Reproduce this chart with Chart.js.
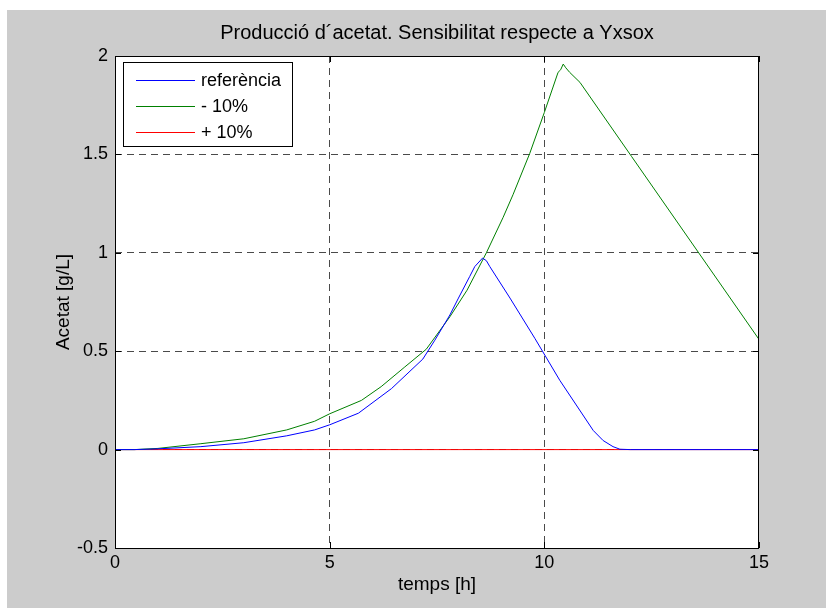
<!DOCTYPE html>
<html>
<head>
<meta charset="utf-8">
<script src="https://cdn.jsdelivr.net/npm/chart.js@4.4.0/dist/chart.umd.min.js"></script>
<style>
  html, body { margin: 0; padding: 0; background: #fff; }
  canvas { display: block; }
</style>
</head>
<body>
<canvas id="chart" width="826" height="608"></canvas>
<script>
// Values (time in h, acetate in g/L)
const refTime = [0, 0.45, 1, 2, 3, 4, 4.65, 5, 5.67, 6.44, 7.17, 7.45, 7.8, 8.0, 8.26, 8.38, 8.56, 8.65, 8.73, 9.2, 9.78, 10.36, 11.14, 11.37, 11.6, 11.76, 12, 15];
const refAcetate = [0, 0, 0.004, 0.015, 0.035, 0.07, 0.10, 0.126, 0.185, 0.31, 0.46, 0.556, 0.684, 0.77, 0.879, 0.93, 0.973, 0.96, 0.93, 0.77, 0.565, 0.352, 0.097, 0.046, 0.015, 0.002, 0, 0];

const minusTime = [0, 0.45, 1, 2, 3, 4, 4.65, 5, 5.74, 6.2, 6.75, 7.25, 7.8, 8.2, 8.65, 9.04, 9.27, 9.66, 10.0, 10.32, 10.38, 10.44, 10.5, 10.59, 10.83, 12.03, 15];
const minusAcetate = [0, 0, 0.006, 0.03, 0.055, 0.10, 0.144, 0.182, 0.25, 0.32, 0.42, 0.51, 0.675, 0.81, 1.0, 1.18, 1.295, 1.505, 1.713, 1.917, 1.93, 1.959, 1.94, 1.917, 1.866, 1.49, 0.56];

const plusTime = [0, 15];
const plusAcetate = [0, 0];

const xTicks = [0, 5, 10, 15];
const yTicks = [-0.5, 0, 0.5, 1, 1.5, 2];

const seriesLabels = ['referència', '- 10%', '+ 10%'];
const seriesColors = ['#0000ff', '#008000', '#ff0000'];

const FONT = '"Liberation Sans", Arial, sans-serif';

function toPoints(xs, ys) {
    return xs.map((x, i) => ({ x: x, y: ys[i] }));
}

// grid only between the outer limits, like matlab
function gridColor(limits) {
    return ctx => (ctx.tick && limits.includes(ctx.tick.value)) ? 'rgba(0,0,0,0)' : '#4a4a4a';
}

// gray figure background with white axes area
const figureBackground = {
    id: 'figureBackground',
    beforeDraw(chart) {
        const ctx = chart.ctx;
        const a = chart.chartArea;
        ctx.save();
        ctx.fillStyle = '#ffffff';
        ctx.fillRect(0, 0, chart.width, chart.height);
        ctx.fillStyle = '#cccccc';
        ctx.fillRect(7, 10, chart.width - 7, chart.height - 10);
        ctx.fillStyle = '#ffffff';
        ctx.fillRect(a.left, a.top, a.right - a.left, a.bottom - a.top);
        ctx.restore();
    }
};

// box, inward ticks and the legend
const axesBox = {
    id: 'axesBox',
    afterDraw(chart) {
        const ctx = chart.ctx;
        const a = chart.chartArea;
        const xs = chart.scales.x;
        const ys = chart.scales.y;
        ctx.save();
        ctx.strokeStyle = '#000';
        ctx.lineWidth = 1;
        ctx.setLineDash([]);
        ctx.strokeRect(a.left + 0.5, a.top + 0.5, a.right - a.left - 1, a.bottom - a.top);

        ctx.beginPath();
        xTicks.forEach(v => {
            const px = Math.round(xs.getPixelForValue(v)) + 0.5;
            ctx.moveTo(px, a.bottom); ctx.lineTo(px, a.bottom - 6);
            ctx.moveTo(px, a.top); ctx.lineTo(px, a.top + 6);
        });
        yTicks.forEach(v => {
            const py = Math.round(ys.getPixelForValue(v)) + 0.5;
            ctx.moveTo(a.left, py); ctx.lineTo(a.left + 6, py);
            ctx.moveTo(a.right, py); ctx.lineTo(a.right - 6, py);
        });
        ctx.stroke();

        // legend
        const lx = 123.5, ly = 62.5, lw = 169, lh = 84;
        ctx.fillStyle = '#fff';
        ctx.fillRect(lx, ly, lw, lh);
        ctx.strokeRect(lx, ly, lw, lh);
        ctx.font = '18px ' + FONT;
        ctx.textBaseline = 'middle';
        ctx.textAlign = 'left';
        chart.data.datasets.forEach((ds, i) => {
            const y = 80.5 + i * 26;
            ctx.strokeStyle = ds.borderColor;
            ctx.beginPath();
            ctx.moveTo(136, y);
            ctx.lineTo(195, y);
            ctx.stroke();
            ctx.fillStyle = '#000';
            ctx.fillText(ds.label, 201, y + 1);
        });
        ctx.restore();
    }
};

const chart = new Chart(document.getElementById('chart').getContext('2d'), {
    type: 'line',
    data: {
        datasets: [
            { label: seriesLabels[0], data: toPoints(refTime, refAcetate) },
            { label: seriesLabels[1], data: toPoints(minusTime, minusAcetate) },
            { label: seriesLabels[2], data: toPoints(plusTime, plusAcetate) }
        ].map((ds, i) => Object.assign(ds, {
            borderColor: seriesColors[i],
            backgroundColor: seriesColors[i],
            borderWidth: 1,
            pointRadius: 0,
            tension: 0,
            fill: false
        }))
    },
    options: {
        responsive: false,
        animation: false,
        devicePixelRatio: 1,
        layout: { padding: { top: 0, right: 67, bottom: 0, left: 0 } },
        plugins: {
            legend: { display: false },
            tooltip: { enabled: false },
            title: {
                display: true,
                text: 'Producció d´acetat. Sensibilitat respecte a Yxsox',
                color: '#000',
                fullSize: false,
                font: { family: FONT, size: 20, weight: 'normal', lineHeight: 1.2 },
                padding: { top: 21, bottom: 11 }
            }
        },
        scales: {
            x: {
                type: 'linear',
                min: 0,
                max: 15,
                afterBuildTicks: s => { s.ticks = xTicks.map(v => ({ value: v })); },
                afterFit: s => { s.height = 60; },
                grid: { color: gridColor([0, 15]), drawTicks: false, borderDash: [7, 5] },
                border: { display: false, dash: [7, 5] },
                ticks: { color: '#000', padding: 4, maxRotation: 0, font: { family: FONT, size: 18 },
                         callback: v => String(v) },
                title: {
                    display: true,
                    text: 'temps [h]',
                    color: '#000',
                    font: { family: FONT, size: 19, lineHeight: 1.2 },
                    padding: { top: 0, bottom: 12 }
                }
            },
            y: {
                min: -0.5,
                max: 2,
                afterBuildTicks: s => { s.ticks = yTicks.map(v => ({ value: v })); },
                afterFit: s => { s.width = 115; },
                grid: { color: gridColor([-0.5, 2]), drawTicks: false, borderDash: [7, 5] },
                border: { display: false, dash: [7, 5] },
                ticks: { color: '#000', padding: 7, font: { family: FONT, size: 18 },
                         callback: v => String(v) },
                title: {
                    display: true,
                    text: 'Acetat [g/L]',
                    color: '#000',
                    font: { family: FONT, size: 19, lineHeight: 1.2 },
                    padding: { top: 52, bottom: 0 }
                }
            }
        }
    },
    plugins: [figureBackground, axesBox]
});
</script>
</body>
</html>
